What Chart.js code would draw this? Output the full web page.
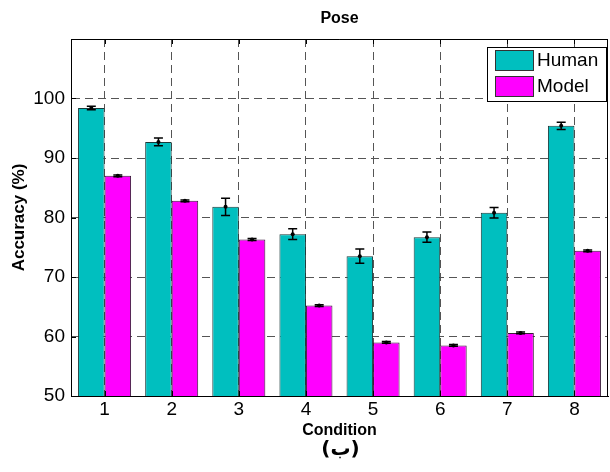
<!DOCTYPE html>
<html>
<head>
<meta charset="utf-8">
<script src="https://cdn.jsdelivr.net/npm/chart.js@4.4.0/dist/chart.umd.min.js"></script>
<style>
  html, body { margin: 0; padding: 0; background: #fff; }
</style>
</head>
<body>
<canvas id="chart-pose" width="610" height="472"></canvas>
<script>
// Pose accuracy per condition
const conditions = ['1', '2', '3', '4', '5', '6', '7', '8'];
const humanAcc = [98.4, 92.7, 81.8, 77.2, 73.5, 76.7, 80.8, 95.4];
const humanErr = [0.3, 0.65, 1.45, 0.9, 1.2, 0.85, 0.9, 0.6];
const modelAcc = [87.0, 82.8, 76.3, 65.2, 59.0, 58.5, 60.6, 74.4];
const modelErr = [0.15, 0.15, 0.15, 0.15, 0.15, 0.15, 0.15, 0.15];
const errors = [humanErr, modelErr];

const FONT = "'Liberation Sans', Arial, Helvetica, sans-serif";
const GRID = '#555555';

// Error bars, box, inward ticks, legend and captions
const decorations = {
    id: 'decorations',
    afterDatasetsDraw(chart) {
        const ctx = chart.ctx;
        const y = chart.scales.y;
        ctx.save();
        ctx.strokeStyle = '#000';
        ctx.fillStyle = '#000';
        ctx.lineWidth = 1.5;
        chart.data.datasets.forEach((ds, i) => {
            const meta = chart.getDatasetMeta(i);
            meta.data.forEach((bar, j) => {
                const v = ds.data[j];
                const e = errors[i][j];
                const yt = y.getPixelForValue(v + e);
                const yb = y.getPixelForValue(v - e);
                const x = bar.x;
                ctx.beginPath();
                ctx.moveTo(x, yt); ctx.lineTo(x, yb);
                ctx.moveTo(x - 4.5, yt); ctx.lineTo(x + 4.5, yt);
                ctx.moveTo(x - 4.5, yb); ctx.lineTo(x + 4.5, yb);
                ctx.stroke();
                ctx.beginPath();
                ctx.arc(x, y.getPixelForValue(v), 2, 0, Math.PI * 2);
                ctx.fill();
            });
        });
        ctx.restore();
    },
    afterDraw(chart) {
        const ctx = chart.ctx;
        const a = chart.chartArea;
        const xs = chart.scales.x;
        const ys = chart.scales.y;
        ctx.save();

        // box
        ctx.strokeStyle = '#000';
        ctx.lineWidth = 1;
        ctx.beginPath();
        ctx.moveTo(a.left, a.top + 0.5); ctx.lineTo(a.right, a.top + 0.5);
        ctx.moveTo(a.right - 0.5, a.top); ctx.lineTo(a.right - 0.5, a.bottom);
        ctx.stroke();

        // inward tick marks
        ctx.beginPath();
        ys.ticks.forEach((t, i) => {
            const py = Math.round(ys.getPixelForTick(i)) + 0.5;
            ctx.moveTo(a.left, py); ctx.lineTo(a.left + 5, py);
        });
        xs.ticks.forEach((t, i) => {
            const px = Math.round(xs.getPixelForTick(i)) + 0.5;
            ctx.moveTo(px, a.bottom); ctx.lineTo(px, a.bottom - 5);
            ctx.moveTo(px, a.top); ctx.lineTo(px, a.top + 5);
        });
        ctx.stroke();

        // legend
        const lx = 487, ly = 47, lw = 119, lh = 54;
        ctx.fillStyle = '#fff';
        ctx.fillRect(lx, ly, lw, lh);
        ctx.strokeRect(lx + 0.5, ly + 0.5, lw, lh);
        ctx.font = '19px ' + FONT;
        ctx.textBaseline = 'middle';
        ctx.textAlign = 'left';
        chart.data.datasets.forEach((ds, i) => {
            const ry = ly + 3 + i * 26;
            ctx.fillStyle = ds.backgroundColor;
            ctx.fillRect(lx + 8, ry, 38, 20);
            ctx.strokeStyle = '#333';
            ctx.strokeRect(lx + 8.5, ry + 0.5, 38, 20);
            ctx.fillStyle = '#000';
            ctx.fillText(ds.label, lx + 50, ry + 11);
        });

        // captions
        const cx = (a.left + a.right) / 2;
        ctx.textAlign = 'center';
        ctx.fillStyle = '#000';
        ctx.font = 'bold 16px ' + FONT;
        ctx.fillText('Pose', cx, 19);
        ctx.font = "bold 20px 'DejaVu Sans', sans-serif";
        ctx.fillText('(ب)', cx + 1, 450);
        ctx.restore();
    }
};

new Chart(document.getElementById('chart-pose'), {
    type: 'bar',
    data: {
        labels: conditions,
        datasets: [
            {
                label: 'Human',
                data: humanAcc,
                backgroundColor: '#00bfbf',
                borderColor: '#1a3a3a',
                borderWidth: 1,
            },
            {
                label: 'Model',
                data: modelAcc,
                backgroundColor: '#ff00ff',
                borderColor: '#3a1a3a',
                borderWidth: 1,
            },
        ],
    },
    options: {
        responsive: false,
        animation: false,
        layout: { padding: { top: 39, right: 2, bottom: 30, left: 0 } },
        datasets: {
            bar: { categoryPercentage: 0.79, barPercentage: 1.0 },
        },
        plugins: {
            legend: { display: false },
            tooltip: { enabled: false },
        },
        scales: {
            x: {
                grid: { offset: false, color: GRID, lineWidth: 1, drawTicks: false },
                border: { display: true, color: '#000', width: 1, dash: [8, 5] },
                ticks: { color: '#000', font: { family: FONT, size: 19 }, padding: 2, maxRotation: 0 },
                title: {
                    display: true,
                    text: 'Condition',
                    color: '#000',
                    font: { family: FONT, size: 16, weight: 'bold' },
                    padding: { top: 1, bottom: 2 },
                },
                afterFit(s) { s.height = 46; },
            },
            y: {
                min: 50,
                max: 110,
                grid: { color: GRID, lineWidth: 1, drawTicks: false },
                border: { display: true, color: '#000', width: 1, dash: [8, 5] },
                ticks: {
                    stepSize: 10,
                    color: '#000',
                    padding: 6,
                    font: { family: FONT, size: 19 },
                    callback: (v) => (v > 100 ? '' : v),
                },
                title: {
                    display: true,
                    text: 'Accuracy (%)',
                    color: '#000',
                    font: { family: FONT, size: 17, weight: 'bold' },
                    padding: { top: 9, bottom: 9 },
                },
                afterFit(s) { s.width = 71; },
            },
        },
    },
    plugins: [decorations],
});
</script>
</body>
</html>
